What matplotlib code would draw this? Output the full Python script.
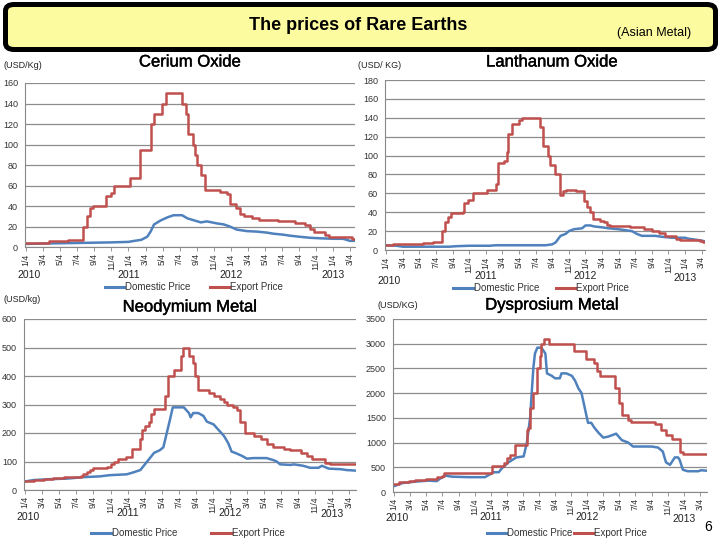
import matplotlib
matplotlib.use("Agg")
import matplotlib.pyplot as plt
import matplotlib.transforms as mtrans
import matplotlib.patheffects as pe
from matplotlib.patches import FancyBboxPatch
from matplotlib.lines import Line2D

plt.rcParams['font.family'] = ['Liberation Sans', 'DejaVu Sans']

# ---------------- data (x = months since 4 Jan 2010) ----------------
tick_pos = list(range(0, 39, 2))
tick_labels = ["1/4", "3/4", "5/4", "7/4", "9/4", "11/4"] * 3 + ["1/4", "3/4"]
years = ["2010", "2011", "2012", "2013"]
year_pos = [0.3, 12, 24, 36]

ce_exp_x = [0, 2.7, 4.9, 6.7, 7.1, 7.5, 7.8, 9.35, 9.9, 10.3, 12.2, 13.4, 14.7, 15.0, 15.9, 16.4,
            18.3, 18.7, 19.0, 19.6, 19.8, 20.1, 20.5, 21.0, 22.8, 23.6, 23.9, 24.6, 25.1, 25.6,
            26.5, 27.3, 29.6, 31.6, 32.7, 33.3, 33.8, 35.1, 35.6, 38.2, 38.6]
ce_exp_y = [4, 6, 7, 20, 30, 38, 40, 50, 53, 60, 67, 95, 120, 130, 140, 150,
            140, 130, 110, 100, 90, 80, 70, 56, 54, 52, 42, 38, 32, 30,
            28, 26, 25, 23, 21, 18, 15, 12, 10, 8, 8]
ce_dom_x = [0, 2.9, 6.5, 10, 12, 12.7, 13.5, 14.2, 14.6, 15.0, 15.8, 16.6, 17.3, 18.3, 18.9, 19.7,
            20.5, 21.2, 22.4, 23.2, 23.9, 24.7, 25.9, 27.1, 28.3, 29.0, 30.2, 31.0, 32.1, 33.3,
            34.5, 36.1, 37.2, 38.0, 38.6]
ce_dom_y = [3, 3.5, 4, 4.5, 5, 6, 7, 10, 15, 22, 26, 29, 31, 31, 28, 26,
            24, 25, 23, 22, 20, 17, 15.5, 15, 14, 13, 12, 11, 10, 9,
            8.5, 8, 8, 6, 6]

la_exp_x = [0, 0.8, 3.4, 4.4, 5.6, 6.7, 7.1, 7.4, 7.8, 9.2, 9.4, 9.8, 10.4, 12.1, 13.2, 13.5,
            14.2, 14.5, 14.7, 15.1, 16.0, 16.4, 18.5, 18.9, 19.5, 19.7, 20.3, 20.9, 21.3, 21.6,
            22.9, 23.8, 24.2, 24.5, 24.9, 25.7, 26.2, 26.6, 27.0, 29.4, 31.0, 32.0, 32.8, 33.6,
            34.9, 35.4, 37.8, 38.1, 38.4]
la_exp_y = [5, 6, 6.5, 7, 8, 20, 30, 35, 39, 40, 50, 53, 60, 64, 70, 92,
            94, 104, 123, 133, 138, 140, 130, 110, 100, 90, 80, 58, 62, 64,
            62, 52, 46, 40, 33, 31, 30, 27, 25, 24, 22, 20, 18, 15,
            12, 11, 10, 8, 8]
la_dom_x = [0, 1.2, 2.0, 7.6, 8.4, 10, 12.4, 13.2, 19.2, 20, 20.4, 21.0, 21.6, 22.0, 22.6, 23.6,
            24.0, 24.6, 25.0, 26.0, 26.8, 28.0, 28.8, 29.6, 30.2, 30.8, 32.4, 33.2, 34.4, 36,
            36.4, 37.2, 38.0, 38.4]
la_dom_y = [5, 4.5, 3.5, 3.5, 4, 4.5, 4.5, 5, 5, 6, 8, 15, 17, 20, 22, 23,
            26, 26, 25, 24, 23, 22, 21, 20, 17, 15, 15, 14, 13, 13,
            12, 11, 10, 9]

nd_exp_x = [0, 1.0, 2.2, 3.3, 4.5, 5.7, 6.5, 6.8, 7.2, 7.6, 8.0, 9.6, 10.0, 10.4, 10.9, 11.8,
            12.5, 13.5, 13.7, 14.1, 14.5, 14.7, 15.1, 16.4, 16.8, 17.4, 18.3, 18.5, 19.2, 19.7,
            19.9, 20.3, 21.5, 22.1, 22.9, 23.3, 23.7, 24.4, 24.8, 25.2, 25.8, 26.8, 27.6, 28.3,
            29.1, 30.3, 31.1, 32.4, 33.0, 33.6, 35.2, 35.8, 38.8]
nd_exp_y = [30, 35, 38, 42, 44, 45, 50, 55, 62, 70, 78, 80, 90, 100, 110, 115,
            145, 180, 210, 225, 240, 265, 285, 330, 400, 420, 470, 500, 470, 445,
            400, 350, 340, 330, 320, 310, 300, 290, 280, 240, 200, 190, 180, 160,
            150, 145, 140, 130, 120, 110, 95, 92, 92]
nd_dom_x = [0, 1.0, 2.9, 4.9, 6.8, 8.8, 9.9, 11.9, 12.7, 13.5, 14.3, 15.1, 15.8, 16.2, 16.6, 17.0,
            17.3, 18.6, 19.2, 19.4, 19.7, 20.3, 20.9, 21.3, 22.1, 22.7, 23.3, 23.8, 24.2, 24.8,
            25.4, 26.0, 26.8, 28.3, 29.1, 29.5, 29.9, 31.1, 31.5, 32.6, 33.4, 34.4, 34.8, 35.6,
            37.0, 37.7, 38.8]
nd_dom_y = [30, 35, 38, 40, 45, 48, 52, 55, 62, 70, 100, 130, 140, 150, 200, 250,
            290, 290, 270, 255, 270, 270, 260, 240, 230, 210, 190, 165, 135, 128,
            120, 110, 112, 112, 105, 100, 90, 88, 90, 85, 78, 78, 85, 75,
            73, 70, 68]

dy_exp_x = [0, 0.6, 1.8, 2.6, 3.9, 5.1, 5.3, 6.0, 6.2, 12.2, 13.6, 14.0, 14.4, 15.0, 16.5, 16.7,
            16.9, 17.3, 17.7, 18.1, 18.3, 18.6, 19.2, 22.3, 23.9, 24.8, 25.2, 25.6, 27.4, 27.9,
            28.3, 29.1, 29.5, 32.4, 33.2, 33.8, 34.5, 35.5, 35.9, 38.9]
dy_exp_y = [170, 200, 220, 250, 270, 260, 300, 320, 380, 520, 580, 680, 750, 950, 1250, 1300,
            1700, 2000, 2500, 2750, 3000, 3100, 3000, 2850, 2700, 2600, 2450, 2350, 2100, 1800,
            1550, 1450, 1420, 1380, 1250, 1150, 1070, 800, 760, 760]
dy_dom_x = [0, 1.0, 2.6, 4.3, 5.3, 5.7, 6.4, 7.2, 9.3, 11.3, 11.5, 12.4, 13.0, 13.4, 14.2, 15.2,
            16.1, 16.5, 16.9, 17.1, 17.3, 17.5, 17.8, 18.3, 18.6, 18.8, 19.0, 19.6, 20.0, 20.6,
            20.8, 21.4, 22.1, 22.5, 22.9, 23.3, 23.7, 24.1, 24.5, 24.9, 25.4, 26.0, 26.6, 27.6,
            28.3, 29.1, 29.7, 32.0, 32.8, 33.4, 33.8, 34.3, 34.9, 35.3, 35.5, 35.9, 36.5, 37.8,
            38.2, 38.9]
dy_dom_y = [120, 180, 210, 230, 220, 270, 330, 310, 300, 300, 320, 400, 400, 480, 600, 700,
            720, 1000, 1500, 2000, 2500, 2800, 2920, 2920, 2850, 2800, 2400, 2350, 2300, 2300,
            2400, 2400, 2350, 2250, 2100, 2000, 1700, 1400, 1400, 1300, 1200, 1100, 1120, 1180,
            1050, 1000, 920, 920, 900, 820, 600, 550, 700, 700, 650, 450, 420, 420,
            440, 430]

BLUE = "#4F81BD"
RED = "#C0504D"
W, H = 720, 540

fig = plt.figure(figsize=(7.2, 5.4), dpi=100)
fig.patch.set_facecolor("white")


def fx(px):
    return px / W


def fy(py):
    return 1 - py / H


# header box
box = FancyBboxPatch((fx(5.5), fy(49.5)), fx(710), 45 / H,
                     boxstyle="round,pad=0,rounding_size=0.012",
                     transform=fig.transFigure, facecolor="#FDFBA0",
                     edgecolor="black", linewidth=3.6, zorder=1)
fig.patches.append(box)
fig.text(fx(358), fy(26), "The prices of Rare Earths", ha="center", va="center",
         fontsize=13, fontweight="bold")
fig.text(fx(654), fy(33), "(Asian Metal)", ha="center", va="center", fontsize=9)
fig.text(fx(708), fy(527), "6", ha="center", va="center", fontsize=10)

panels = [
    dict(rect=(25, 355, 83, 247), xr=38.6, ymax=160, ystep=20, title="Cerium Oxide",
         tpos=(190, 62), unit="(USD/Kg)", upos=(4, 65),
         ex=ce_exp_x, ey=ce_exp_y, dx=ce_dom_x, dy=ce_dom_y,
         yy=[275, 275, 275, 275], leg=(194, 287), cs=2.0),
    dict(rect=(385, 705, 80, 250), xr=38.4, ymax=180, ystep=20, title="Lanthanum Oxide",
         tpos=(552, 62), unit="(USD/ KG)", upos=(358, 65),
         ex=la_exp_x, ey=la_exp_y, dx=la_dom_x, dy=la_dom_y,
         yy=[281, 276, 276, 278], leg=(541, 288), cs=1.7),
    dict(rect=(24, 356, 319, 490), xr=38.8, ymax=600, ystep=100, title="Neodymium Metal",
         tpos=(190, 307), unit="(USD/kg)", upos=(4, 300),
         ex=nd_exp_x, ey=nd_exp_y, dx=nd_dom_x, dy=nd_dom_y,
         yy=[517, 513, 513, 514], leg=(188, 533), cs=3.5),
    dict(rect=(393, 707, 319, 492), xr=38.9, ymax=3500, ystep=500, title="Dysprosium Metal",
         tpos=(552, 305), unit="(USD/KG)", upos=(378, 306),
         ex=dy_exp_x, ey=dy_exp_y, dx=dy_dom_x, dy=dy_dom_y,
         yy=[518, 517, 517, 519], leg=(567, 533), cs=0.1),
]

for p in panels:
    l, r, t, b = p["rect"]
    ax = fig.add_axes([fx(l), fy(b), (r - l) / W, (b - t) / H])
    ax.set_facecolor("white")
    ax.set_xlim(-0.15, p["xr"])
    ax.set_ylim(0, p["ymax"])
    yt = list(range(0, p["ymax"] + 1, p["ystep"]))
    ax.set_yticks(yt)
    ax.set_yticklabels([str(v) for v in yt], fontsize=6.5, color="#333333")
    ax.set_xticks(tick_pos)
    ax.set_xticklabels(tick_labels, rotation=90, fontsize=6.3, color="#333333")
    ax.tick_params(axis="y", length=0, pad=5)
    ax.tick_params(axis="x", length=3, width=0.6, color="#888888", pad=1.5)
    for s in ["top", "right"]:
        ax.spines[s].set_visible(False)
    for s in ["left", "bottom"]:
        ax.spines[s].set_color("#888888")
        ax.spines[s].set_linewidth(0.8)
    ax.grid(axis="y", color="#8C8C8C", linewidth=0.9)
    ax.set_axisbelow(True)
    ax.plot(p["dx"], p["dy"], color=BLUE, linewidth=1.8, solid_joinstyle="round")
    ax.plot(p["ex"], p["ey"], color=RED, linewidth=1.8, drawstyle="steps-post")

    trans = mtrans.blended_transform_factory(ax.transData, fig.transFigure)
    for yr, xp, ypx in zip(years, year_pos, p["yy"]):
        ax.text(xp, fy(ypx), yr, transform=trans, ha="center", va="center",
                fontsize=7.5, color="#222222")

    fig.text(fx(p["tpos"][0]), fy(p["tpos"][1]), p["title"], ha="center", va="center",
             fontsize=12, color="black",
             path_effects=[pe.withStroke(linewidth=0.3, foreground="black")])
    fig.text(fx(p["upos"][0]), fy(p["upos"][1]), p["unit"], ha="left", va="center",
             fontsize=6.5, color="#222222")

    handles = [Line2D([], [], color=BLUE, linewidth=2.2),
               Line2D([], [], color=RED, linewidth=2.2)]
    ax.legend(handles, ["Domestic Price", "Export Price"], loc="center",
              bbox_to_anchor=(fx(p["leg"][0]), fy(p["leg"][1])),
              bbox_transform=fig.transFigure, ncol=2, frameon=False,
              fontsize=7, handlelength=2.0, handletextpad=0.1,
              columnspacing=p["cs"], borderpad=0, labelcolor="#333333")

fig.savefig("out.png", dpi=100, facecolor="white")
